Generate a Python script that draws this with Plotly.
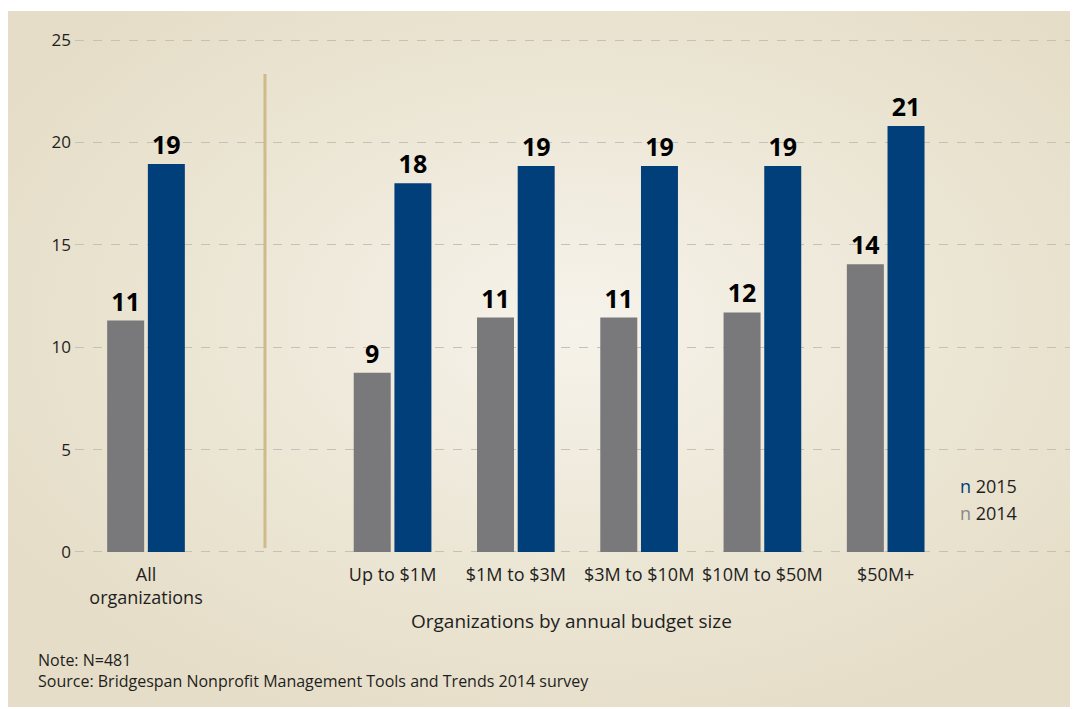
import base64
import plotly.graph_objects as go

# data
categories = ["All<br>organizations", "Up to $1M", "$1M to $3M", "$3M to $10M", "$10M to $50M", "$50M+"]
cat_pos = [0, 2, 3, 4, 5, 6]
values_2014 = [11.3, 8.75, 11.45, 11.45, 11.7, 14.05]
values_2015 = [18.95, 18.0, 18.85, 18.85, 18.85, 20.8]
labels_2014 = ["11", "9", "11", "11", "12", "14"]
labels_2015 = ["19", "18", "19", "19", "19", "21"]
y_ticks = [0, 5, 10, 15, 20, 25]
notes = ["Note: N=481", "Source: Bridgespan Nonprofit Management Tools and Trends 2014 survey"]

GRAY = "#79787a"
BLUE = "#003f7a"
FONT = "Open Sans"
TXT = "#1e1e1e"

# the page puts the figure 8px in from the top-left corner
W, H = 1070, 701
L, R, T, B = 67, 0, 22, 147

# background: beige radial gradient panel
svg = f"""<svg xmlns='http://www.w3.org/2000/svg' width='{W}' height='{H}' viewBox='0 0 {W} {H}'>
<defs><radialGradient id='g' cx='0.53' cy='0.45' r='0.62'>
<stop offset='0' stop-color='#f6f3eb'/><stop offset='0.55' stop-color='#ece6d5'/>
<stop offset='1' stop-color='#e5ddc7'/></radialGradient></defs>
<rect x='0' y='0' width='{W}' height='{H}' fill='#ffffff'/>
<rect x='0' y='3' width='{W}' height='{H-5}' fill='url(#g)'/>
</svg>"""
bg_src = "data:image/svg+xml;base64," + base64.b64encode(svg.encode()).decode()

pw, ph = W - L - R, H - T - B
bottom = H - B


def py(y):
    # page y (reference) -> paper coordinate
    return (bottom - (y - 8)) / ph


def px(x):
    return (x - 8 - L) / pw


fig = go.Figure()

fig.add_trace(go.Bar(
    x=cat_pos, y=values_2014, text=labels_2014,
    width=0.3, offset=-0.315,
    marker=dict(color=GRAY, line=dict(width=0)),
    textposition="outside", cliponaxis=False,
    textfont=dict(family=FONT, size=25, color="black", weight="bold"),
    name="2014",
))
fig.add_trace(go.Bar(
    x=cat_pos, y=values_2015, text=labels_2015,
    width=0.3, offset=0.015,
    marker=dict(color=BLUE, line=dict(width=0)),
    textposition="outside", cliponaxis=False,
    textfont=dict(family=FONT, size=25, color="black", weight="bold"),
    name="2015",
))

# separator between "All" and budget groups
fig.add_shape(type="line", xref="x", yref="paper",
              x0=0.965, x1=0.965, y0=py(548), y1=py(74),
              line=dict(color="#cdbb8a", width=3), layer="above")

fig.update_layout(
    width=W, height=H,
    margin=dict(l=L, r=R, t=T, b=B, autoexpand=False),
    paper_bgcolor="white",
    plot_bgcolor="rgba(0,0,0,0)",
    barmode="overlay",
    showlegend=False,
    font=dict(family=FONT, color=TXT),
    images=[dict(source=bg_src, xref="paper", yref="paper",
                 x=-L / pw, y=1 + T / ph, sizex=W / pw, sizey=H / ph,
                 xanchor="left", yanchor="top", sizing="stretch", layer="below")],
    xaxis=dict(
        range=[-0.576, 7.56],
        tickmode="array", tickvals=cat_pos, ticktext=categories,
        tickfont=dict(size=18, color=TXT),
        showgrid=False, zeroline=False, showline=False, ticks="", automargin=False,
    ),
    yaxis=dict(
        range=[-0.49, 25.49],
        tickmode="array", tickvals=y_ticks,
        tickfont=dict(size=17, color=TXT),
        showgrid=True, gridcolor="#c4c0ba", griddash="dash", gridwidth=1,
        zeroline=False, showline=False, ticks="", ticklabelstandoff=3, automargin=False,
    ),
)

fig.add_annotation(text="Organizations by annual budget size", xref="x", yref="paper",
                   x=3.45, y=py(621), yanchor="middle", showarrow=False,
                   font=dict(size=19, color=TXT))

fig.add_annotation(text=f"<span style='color:{BLUE}'>n</span> 2015", xref="paper", yref="paper",
                   x=px(958), y=py(486), xanchor="left", yanchor="middle", showarrow=False,
                   font=dict(size=18, color=TXT))
fig.add_annotation(text=f"<span style='color:#8a898b'>n</span> 2014", xref="paper", yref="paper",
                   x=px(958), y=py(513), xanchor="left", yanchor="middle", showarrow=False,
                   font=dict(size=18, color=TXT))

fig.add_annotation(text="<br>".join(notes), xref="paper", yref="paper", x=px(37), y=py(648),
                   xanchor="left", yanchor="top", align="left", showarrow=False, borderpad=0,
                   font=dict(size=16, color=TXT))

fig.write_html("out.html")
